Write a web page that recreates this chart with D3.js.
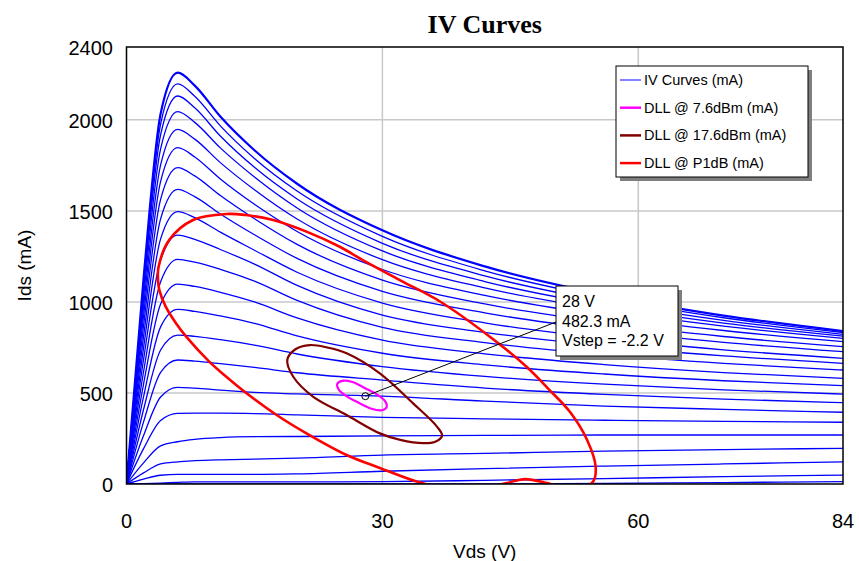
<!DOCTYPE html>
<html>
<head>
<meta charset="utf-8">
<script src="https://cdnjs.cloudflare.com/ajax/libs/d3/7.8.5/d3.min.js"></script>
<style>
  body { margin: 0; background: #fff; }
  text { font-family: "Liberation Sans", Arial, sans-serif; fill: #000; }
</style>
</head>
<body>
<svg width="859" height="561"></svg>
<script>
// Vds sample points (V) shared by all IV curves
var vds = [0, 2, 4, 6, 8, 11, 15, 20, 30, 42, 56, 70, 84];

// Ids (mA) per gate step, top curve first
var ivCurves = [
  [0, 1130, 2033, 2259, 2188, 2018, 1833, 1649, 1393, 1195, 1039, 925, 840],
  [0, 1099, 1977, 2197, 2129, 1967, 1788, 1609, 1360, 1171, 1022, 913, 832],
  [0, 1066, 1918, 2131, 2066, 1911, 1739, 1565, 1322, 1143, 1002, 899, 822],
  [0, 1023, 1841, 2045, 1986, 1846, 1686, 1516, 1280, 1112, 980, 884, 812],
  [0, 974, 1753, 1948, 1894, 1765, 1616, 1455, 1232, 1077, 956, 867, 800],
  [0, 924, 1662, 1847, 1796, 1675, 1536, 1387, 1178, 1036, 925, 843, 782],
  [0, 869, 1563, 1737, 1692, 1584, 1457, 1316, 1120, 989, 886, 810, 754],
  [0, 809, 1456, 1618, 1578, 1483, 1369, 1239, 1058, 940, 846, 778, 727],
  [0, 748, 1346, 1496, 1463, 1383, 1284, 1163, 994, 885, 799, 737, 690],
  [0, 684, 1230, 1367, 1344, 1288, 1208, 1091, 928, 833, 758, 704, 663],
  [0, 617, 1111, 1234, 1218, 1179, 1114, 1008, 860, 776, 710, 662, 626],
  [0, 549, 988, 1098, 1085, 1053, 1000, 912, 790, 715, 656, 612, 580],
  [0, 480, 863, 959, 948, 923, 882, 813, 718, 654, 604, 567, 540],
  [0, 409, 736, 818, 811, 793, 763, 714, 645, 591, 548, 517, 494],
  [0, 341, 613, 681, 675, 661, 640, 611, 571, 527, 492, 466, 447],
  [0, 266, 478, 531, 526, 516, 503, 495, 483, 455, 428, 410, 394],
  [0, 194, 349, 388, 389, 389, 387, 380, 366, 358, 350, 344, 339],
  [0, 116, 209, 232, 245, 255, 260, 261, 264, 267, 269, 269, 269],
  [0, 61, 110, 122, 128, 133, 137, 142, 159, 168, 180, 189, 196],
  [0, 27, 48, 53, 53, 53, 53, 56, 70, 84, 98, 110, 122],
  [0, 2, 5, 9, 12, 12, 12, 12, 13, 20, 30, 40, 49],
  [0, 0, 0, 0, 0, 0, 0, 0, 0, 0, 3, 8, 13]
];

// dynamic load lines, [Vds, Ids]
var dllLow = [[30.5,422],[29.93,405],[28.73,413],[27.23,446],[25.83,481],[24.91,517],[24.71,550],[25.29,566],[26.48,560],[27.98,526],[29.39,491],[30.31,455]];
var dllMid = [[18.85,681],[19.8,740],[21.5,763],[23.5,750],[25.8,718],[29.7,608],[33.6,443],[36.4,315],[37.0,265],[36.2,232],[34.8,224],[32.1,242],[29.7,278],[25.8,379],[21.9,479],[19.55,589]];
var dllP1dB = [[3.7,1120],[3.75,1190],[5.0,1340],[7.8,1450],[11.7,1483],[14.0,1477],[17.2,1450],[21.1,1386],[25.0,1303],[27.7,1230],[32.2,1116],[36.8,1001],[42.6,809],[46.9,644],[49.6,516],[52.0,395],[54.0,242],[55.0,95],[54.7,13],[53,-25],[50.5,-10],[49.3,5],[46.7,27],[44.6,5],[42,-20],[38,-25],[34.4,8],[29.7,88],[25.8,159],[21.1,278],[17.6,379],[14.0,501],[11.7,589],[9.7,672],[7.0,809],[5.8,883],[4.6,974],[3.85,1065]];

var qPoint = [28, 482.3];
var qLabels = ["28 V", "482.3 mA", "Vstep = -2.2 V"];

var xTicks = [0, 30, 60, 84];
var yTicks = [0, 500, 1000, 1500, 2000, 2400];
var xGrid = [30, 60];
var yGrid = [500, 1000, 1500, 2000];

var legendNames = ["IV Curves (mA)", "DLL @ 7.6dBm (mA)", "DLL @ 17.6dBm (mA)", "DLL @ P1dB (mA)"];
var legendColors = ["#5a5aff", "#ff00ff", "#800000", "#ff0000"];

var svg = d3.select("svg"),
    pLeft = 126.5, pTop = 47, pRight = 843, pBottom = 484;

var x = d3.scaleLinear().domain([0, 84]).range([pLeft, pRight]),
    y = d3.scaleLinear().domain([0, 2400]).range([pBottom, pTop]);

svg.append("clipPath").attr("id", "plot")
   .append("rect").attr("x", pLeft).attr("y", pTop)
   .attr("width", pRight - pLeft).attr("height", pBottom - pTop);

// grid
svg.selectAll(".gx").data(xGrid).enter().append("line")
   .attr("x1", d => x(d)).attr("x2", d => x(d))
   .attr("y1", pTop).attr("y2", pBottom)
   .attr("stroke", "#c8c8c8").attr("stroke-width", 1.5);
svg.selectAll(".gy").data(yGrid).enter().append("line")
   .attr("x1", pLeft).attr("x2", pRight)
   .attr("y1", d => y(d)).attr("y2", d => y(d))
   .attr("stroke", "#c8c8c8").attr("stroke-width", 1.5);

var g = svg.append("g").attr("clip-path", "url(#plot)");

var ivLine = d3.line()
    .x(function(d, i) { return x(vds[i]); })
    .y(function(d) { return y(d); })
    .curve(d3.curveMonotoneX);

g.selectAll(".iv").data(ivCurves).enter().append("path")
 .attr("d", ivLine)
 .attr("fill", "none")
 .attr("stroke", "#0000ff")
 .attr("stroke-width", function(d, i) { return i == 0 ? 2.2 : 1.3; });

var loop = d3.line()
    .x(d => x(d[0])).y(d => y(d[1]))
    .curve(d3.curveCatmullRomClosed);

g.append("path").attr("d", loop(dllP1dB)).attr("fill", "none")
 .attr("stroke", "#ff0000").attr("stroke-width", 2.6);
g.append("path").attr("d", loop(dllMid)).attr("fill", "none")
 .attr("stroke", "#800000").attr("stroke-width", 2.2);
g.append("path").attr("d", loop(dllLow)).attr("fill", "none")
 .attr("stroke", "#ff00ff").attr("stroke-width", 2.2);

// frame
svg.append("rect").attr("x", pLeft).attr("y", pTop)
   .attr("width", pRight - pLeft).attr("height", pBottom - pTop)
   .attr("fill", "none").attr("stroke", "#000").attr("stroke-width", 1.5);

// axes labels
svg.selectAll(".xt").data(xTicks).enter().append("text")
   .attr("x", d => x(d)).attr("y", 528)
   .attr("text-anchor", "middle").attr("font-size", 20)
   .text(d => d);
svg.selectAll(".yt").data(yTicks).enter().append("text")
   .attr("x", 113).attr("y", d => y(d) + 8)
   .attr("text-anchor", "end").attr("font-size", 20)
   .text(d => d);

svg.append("text").attr("x", (pLeft + pRight) / 2).attr("y", 558)
   .attr("text-anchor", "middle").attr("font-size", 19).text("Vds (V)");
svg.append("text").attr("transform", "translate(31," + ((pTop + pBottom) / 2) + ") rotate(-90)")
   .attr("text-anchor", "middle").attr("font-size", 19).text("Ids (mA)");

svg.append("text").attr("x", (pLeft + pRight) / 2).attr("y", 33)
   .attr("text-anchor", "middle").attr("font-size", 26)
   .style("font-family", "'Liberation Serif', 'Times New Roman', serif")
   .attr("font-weight", "bold").text("IV Curves");

// legend
var lg = svg.append("g").attr("transform", "translate(616,66)");
lg.append("rect").attr("x", 4).attr("y", 4).attr("width", 192).attr("height", 111).attr("fill", "#7f7f7f");
lg.append("rect").attr("width", 192).attr("height", 111).attr("fill", "#fff").attr("stroke", "#000").attr("stroke-width", 1);
legendNames.forEach(function(n, i) {
    var yy = 14 + i * 27.7;
    lg.append("line").attr("x1", 4).attr("x2", 25).attr("y1", yy).attr("y2", yy)
      .attr("stroke", legendColors[i]).attr("stroke-width", i == 0 ? 1.5 : 2.5);
    lg.append("text").attr("x", 28).attr("y", yy + 5).attr("font-size", 14.5).text(n);
});

// marker + callout
var qx = x(qPoint[0]), qy = y(qPoint[1]);
var bx = 556, by = 286, bw = 122, bh = 70;
svg.append("line").attr("x1", qx).attr("y1", qy).attr("x2", bx).attr("y2", by + 36)
   .attr("stroke", "#000").attr("stroke-width", 1);
svg.append("circle").attr("cx", qx).attr("cy", qy).attr("r", 3.5)
   .attr("fill", "none").attr("stroke", "#000").attr("stroke-width", 1);
svg.append("rect").attr("x", bx + 4).attr("y", by + 4).attr("width", bw).attr("height", bh).attr("fill", "#7f7f7f");
svg.append("rect").attr("x", bx).attr("y", by).attr("width", bw).attr("height", bh)
   .attr("fill", "#fff").attr("stroke", "#000").attr("stroke-width", 1);
qLabels.forEach(function(t, i) {
    svg.append("text").attr("x", bx + 6).attr("y", by + 21 + i * 19.5)
       .attr("font-size", 16).text(t);
});
</script>
</body>
</html>
